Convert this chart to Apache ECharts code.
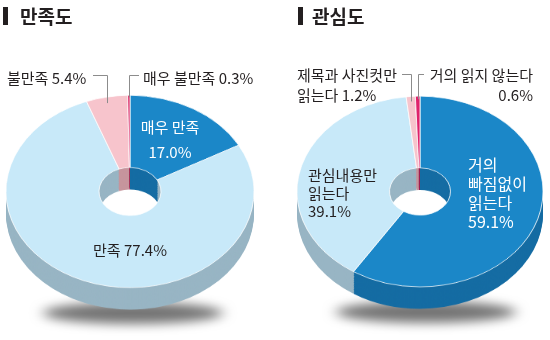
<!DOCTYPE html>
<html>
<head>
<meta charset="utf-8">
<script src="https://cdn.jsdelivr.net/npm/echarts@6/dist/echarts.min.js"></script>
<style>
html,body{margin:0;padding:0;background:#fff;overflow:hidden;width:550px;height:340px}
#pies{position:absolute;left:0;top:0;width:550px;transform-origin:0 0}
#texts{position:absolute;left:0;top:0;width:550px;height:340px}
</style>
</head>
<body>
<div id="pies"></div>
<div id="texts"></div>
<script>
// ---- data ----
const titles = ['만족도', '관심도'];
const satisfactionNames = ['매우 만족', '만족', '불만족', '매우 불만족'];
const satisfactionValues = [17.0, 77.4, 5.4, 0.3];
const interestNames = ['거의\n빠짐없이\n읽는다', '관심내용만\n읽는다', '제목과 사진컷만\n읽는다', '거의 읽지 않는다'];
const interestValues = [59.1, 39.1, 1.2, 0.6];

// ---- layout / style ----
const S = 0.775;           // vertical squash of the tilted donuts
const DEPTH = 22;          // side thickness on screen
const FONT = '"Noto Sans CJK KR", "Noto Sans", sans-serif';
const TEXT = '#231f20';

const donuts = [
  {
    names: satisfactionNames, values: satisfactionValues,
    cx: 130, cy: 191.5, rx: 124, rIn: 31,
    top: ['#1b87c8', '#c8e9f9', '#f7c4cc', '#d8215f'],
    side: ['#156ca3', '#98b5c4', '#c6959d', '#9e1c4a'],
    shadow: { cx: 133, cy: 313, rx: 90, ry: 11 }
  },
  {
    names: interestNames, values: interestValues,
    cx: 420, cy: 191.5, rx: 123, rIn: 30.5,
    top: ['#1b87c8', '#c8e9f9', '#f7c4cc', '#df226b'],
    side: ['#156ca3', '#98b5c4', '#c6959d', '#a01c50'],
    shadow: { cx: 426, cy: 312, rx: 90, ry: 11 }
  }
];

// ---- pie layer (squashed vertically) ----
const pieDiv = document.getElementById('pies');
pieDiv.style.height = (340 / S) + 'px';
pieDiv.style.transform = 'scaleY(' + S + ')';
const pieChart = echarts.init(pieDiv, null, { renderer: 'canvas' });

const series = [];
const shadows = [];
let z = 10;
const steps = 16;
donuts.forEach(function (d) {
  const cyu = d.cy / S;
  const depthU = DEPTH / S;
  for (let k = steps; k >= 0; k--) {
    const off = depthU * k / steps;
    const isTop = k === 0;
    series.push({
      type: 'pie',
      center: [d.cx, cyu + off],
      radius: [d.rIn, d.rx],
      startAngle: 90,
      clockwise: true,
      silent: true,
      animation: false,
      z: z++,
      label: { show: false },
      labelLine: { show: false },
      emphasis: { disabled: true },
      data: d.values.map(function (v, i) {
        return {
          value: v,
          name: d.names[i],
          itemStyle: isTop
            ? { color: d.top[i], borderColor: '#ffffff', borderWidth: 0.8 }
            : { color: d.side[i], borderWidth: 0 }
        };
      })
    });
  }
  shadows.push({
    type: 'ellipse',
    z: 0,
    silent: true,
    shape: { cx: d.shadow.cx - 1200, cy: d.shadow.cy / S, rx: d.shadow.rx, ry: d.shadow.ry / S },
    style: {
      fill: '#000',
      shadowBlur: 14,
      shadowColor: 'rgba(0,0,0,0.55)',
      shadowOffsetX: 1200,
      shadowOffsetY: 0
    }
  });
});

pieChart.setOption({
  animation: false,
  graphic: { elements: shadows },
  series: series
});

// ---- text layer ----
function fmt(v) { return v.toFixed(1) + '%'; }
function anchor(d, i) {
  const total = d.values.reduce(function (a, b) { return a + b; }, 0);
  let cum = 0;
  for (let j = 0; j < i; j++) cum += d.values[j];
  const f = (cum + d.values[i] / 2) / total;
  const th = f * Math.PI * 2;
  const ry = d.rx * S;
  return [d.cx + d.rx * Math.sin(th), d.cy - ry * Math.cos(th)];
}

const labels = [
  // donut, index, joiner, x, y, align, color, size, lineHeight, leader [x, y, inset]
  { d: 0, i: 0, j: '\n', x: 170, y: 140, align: 'center', color: '#ffffff', size: 15, lh: 25 },
  { d: 0, i: 1, j: ' ', x: 130, y: 250, align: 'center', color: TEXT, size: 15, lh: 18 },
  { d: 0, i: 2, j: ' ', x: 7, y: 78, align: 'left', color: TEXT, size: 15, lh: 18, leader: [93, 75.5, 6] },
  { d: 0, i: 3, j: ' ', x: 143, y: 78, align: 'left', color: TEXT, size: 15, lh: 18, leader: [139, 75.5, 2] },
  { d: 1, i: 0, j: '\n', x: 468, y: 193.5, align: 'left', color: '#ffffff', size: 16, lh: 19 },
  { d: 1, i: 1, j: '\n', x: 308, y: 193, align: 'left', color: TEXT, size: 15, lh: 18 },
  { d: 1, i: 2, j: ' ', x: 297, y: 85, align: 'left', color: TEXT, size: 15, lh: 20, leader: [402, 74.5, 5] },
  { d: 1, i: 3, j: '\n', x: 533, y: 85, align: 'right', color: TEXT, size: 15, lh: 20, leader: [424, 74.5, 3] }
];

const gfx = [];
// titles
[[3, 20], [298, 312]].forEach(function (p, t) {
  gfx.push({ type: 'rect', shape: { x: p[0], y: 7, width: 5, height: 18 }, style: { fill: '#231f20' } });
  gfx.push({
    type: 'text',
    style: {
      text: titles[t], x: p[1], y: 16.5, fill: TEXT,
      fontSize: 19, fontWeight: 'bold', fontFamily: FONT,
      align: 'left', verticalAlign: 'middle'
    }
  });
});
labels.forEach(function (L) {
  const d = donuts[L.d];
  gfx.push({
    type: 'text',
    z: 5,
    style: {
      text: d.names[L.i] + L.j + fmt(d.values[L.i]),
      x: L.x, y: L.y, fill: L.color,
      fontSize: L.size, fontFamily: FONT, lineHeight: L.lh,
      align: L.align, verticalAlign: 'middle'
    }
  });
  if (L.leader) {
    const a = anchor(d, L.i);
    const ax = Math.round(a[0]) + 0.5;
    gfx.push({
      type: 'polyline',
      z: 5,
      shape: { points: [[L.leader[0], L.leader[1]], [ax, L.leader[1]], [ax, a[1] + L.leader[2]]] },
      style: { stroke: '#8c8c8c', lineWidth: 1, fill: null }
    });
  }
});

const textChart = echarts.init(document.getElementById('texts'), null, { renderer: 'canvas' });
textChart.setOption({ animation: false, graphic: { elements: gfx } });
</script>
</body>
</html>
